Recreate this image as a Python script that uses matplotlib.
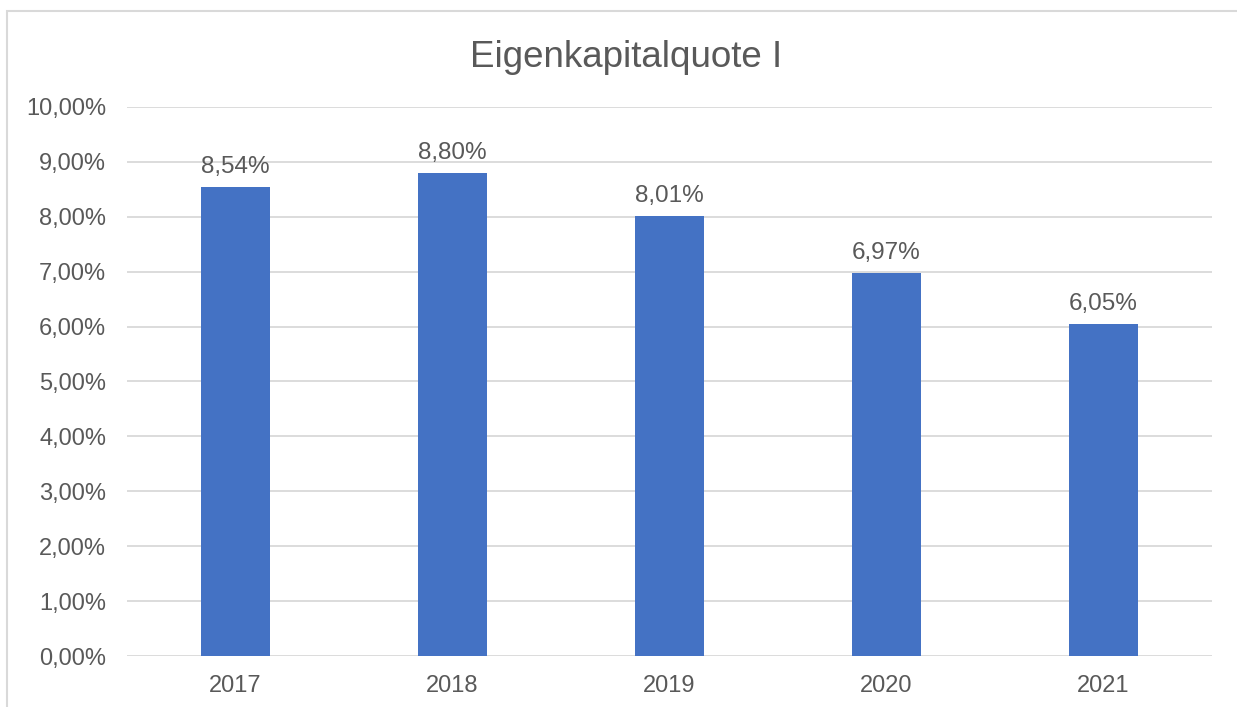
import matplotlib.pyplot as plt
from matplotlib.patches import Rectangle

years = ["2017", "2018", "2019", "2020", "2021"]
quote = [8.54, 8.80, 8.01, 6.97, 6.05]
y_ticks = [0, 1, 2, 3, 4, 5, 6, 7, 8, 9, 10]

plt.rcParams['font.family'] = ['Liberation Sans', 'DejaVu Sans']
text_col = '#595959'

fig = plt.figure(figsize=(12.37, 7.07), dpi=100)
ax = fig.add_axes([0.1027, 0.0721, 0.8771, 0.7766])

x = range(len(years))
bars = ax.bar(x, quote, width=0.315, color='#4472C4', zorder=3)

for b, v in zip(bars, quote):
    ax.annotate(("%.2f%%" % v).replace('.', ','),
                (b.get_x() + b.get_width() / 2, v),
                xytext=(0, 10), textcoords='offset points',
                ha='center', va='baseline', fontsize=17.5, color=text_col)

ax.set_xlim(-0.5, len(years) - 0.5)
ax.set_ylim(0, 10)
ax.set_yticks(y_ticks)
ax.set_yticklabels([("%.2f%%" % t).replace('.', ',') for t in y_ticks])
ax.set_xticks(list(x))
ax.set_xticklabels(years)
ax.tick_params(length=0, labelsize=17, labelcolor=text_col)
ax.tick_params(axis='y', pad=15)
ax.tick_params(axis='x', pad=14)
ax.yaxis.grid(True, color='#D9D9D9', linewidth=1.3, zorder=0)
for s in ax.spines.values():
    s.set_visible(False)

fig.text(0.506, 0.905, "Eigenkapitalquote I", ha='center', va='baseline',
         fontsize=26.5, color=text_col)

# chart frame, only top and left edges visible
fig.patches.append(Rectangle((0.0057, -0.1), 1.2, 0.1 + 0.984,
                             transform=fig.transFigure, fill=False,
                             edgecolor='#D9D9D9', linewidth=1.5))

fig.savefig("out.png", dpi=100)
